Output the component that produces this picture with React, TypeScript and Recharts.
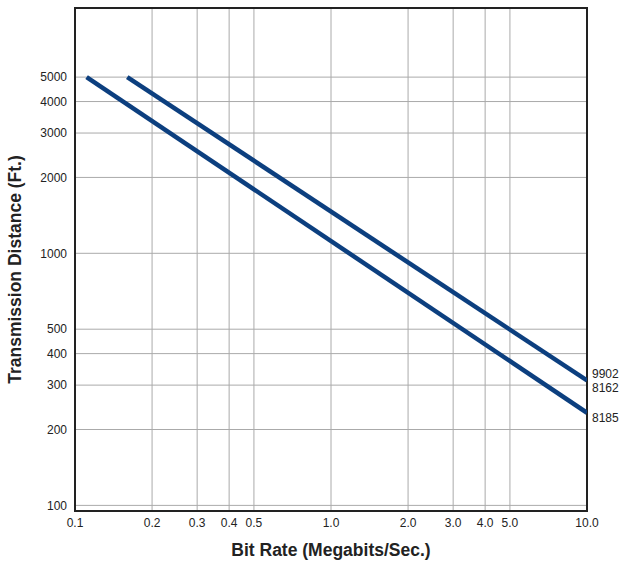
import {
  LineChart,
  Line,
  XAxis,
  YAxis,
  CartesianGrid,
  ReferenceArea,
  Label,
} from "recharts";

// Bit rate (Mbit/s) vs. transmission distance (ft), log-log.
const xTicks = [0.1, 0.2, 0.3, 0.4, 0.5, 1, 2, 3, 4, 5, 10];
const xTickLabels = ["0.1", "0.2", "0.3", "0.4", "0.5", "1.0", "2.0", "3.0", "4.0", "5.0", "10.0"];
const yTicks = [100, 200, 300, 400, 500, 1000, 2000, 3000, 4000, 5000];

// 9902 / 8162 share the upper line, 8185 is the lower one
const upperBitRate = [0.16, 10];
const upperDistance = [5000, 313];
const upperCables = ["9902", "8162"];

const lowerBitRate = [0.111, 10];
const lowerDistance = [5000, 233];
const lowerCables = ["8185"];

const upperData = upperBitRate.map((r, i) => ({ rate: r, dist: upperDistance[i] }));
const lowerData = lowerBitRate.map((r, i) => ({ rate: r, dist: lowerDistance[i] }));

const FONT = "'Liberation Sans', Arial, Helvetica, sans-serif";
const LINE_BLUE = "#0c3f7f";

function endLabel(names: string[], lastIndex: number, dy0: number) {
  return (props: any) => {
    const { x, y, index } = props;
    if (index !== lastIndex) return null;
    return (
      <g>
        {names.map((n, i) => (
          <text
            key={n}
            x={x + 5}
            y={y + dy0 + i * 14}
            fontSize={12}
            fill="#222"
            fontFamily={FONT}
            dominantBaseline="central"
          >
            {n}
          </text>
        ))}
      </g>
    );
  };
}

export default function App() {
  return (
    <div style={{ position: "absolute", left: 0, top: 0, fontFamily: FONT, background: "#fff" }}>
      <LineChart width={625} height={563} margin={{ top: 8, right: 38, bottom: 0, left: 0 }}>
        <CartesianGrid stroke="#aaaaaa" strokeWidth={1} />
        <XAxis
          type="number"
          dataKey="rate"
          scale="log"
          domain={[0.1, 10]}
          allowDataOverflow
          ticks={xTicks}
          interval={0}
          tickFormatter={(v: number) => xTickLabels[xTicks.indexOf(v)] ?? String(v)}
          tickLine={false}
          tickSize={0}
          tickMargin={7}
          height={52}
          axisLine={{ stroke: "#222", strokeWidth: 2 }}
          tick={{ fill: "#222", fontSize: 12, fontFamily: FONT }}
        >
          <Label
            value="Bit Rate (Megabits/Sec.)"
            position="insideBottom"
            offset={7}
            style={{ fontWeight: "bold", fontSize: 17.5, fill: "#222", fontFamily: FONT }}
          />
        </XAxis>
        <YAxis
          type="number"
          dataKey="dist"
          scale="log"
          domain={[95, 9400]}
          allowDataOverflow
          ticks={yTicks}
          interval={0}
          width={75}
          tickLine={false}
          tickSize={0}
          tickMargin={8}
          axisLine={{ stroke: "#222", strokeWidth: 2 }}
          tick={{ fill: "#222", fontSize: 12, fontFamily: FONT }}
        >
          <Label
            value="Transmission Distance (Ft.)"
            position="insideLeft"
            angle={-90}
            offset={15}
            dy={10}
            style={{ textAnchor: "middle", fontWeight: "bold", fontSize: 17.5, fill: "#222", fontFamily: FONT }}
          />
        </YAxis>
        <ReferenceArea
          x1={0.1}
          x2={10}
          y1={95}
          y2={9400}
          fill="none"
          stroke="#222"
          strokeWidth={2}
          ifOverflow="visible"
        />
        <Line
          data={upperData}
          dataKey="dist"
          stroke={LINE_BLUE}
          strokeWidth={4.5}
          dot={false}
          isAnimationActive={false}
          label={endLabel(upperCables, upperData.length - 1, -6)}
        />
        <Line
          data={lowerData}
          dataKey="dist"
          stroke={LINE_BLUE}
          strokeWidth={4.5}
          dot={false}
          isAnimationActive={false}
          label={endLabel(lowerCables, lowerData.length - 1, 5)}
        />
      </LineChart>
    </div>
  );
}
